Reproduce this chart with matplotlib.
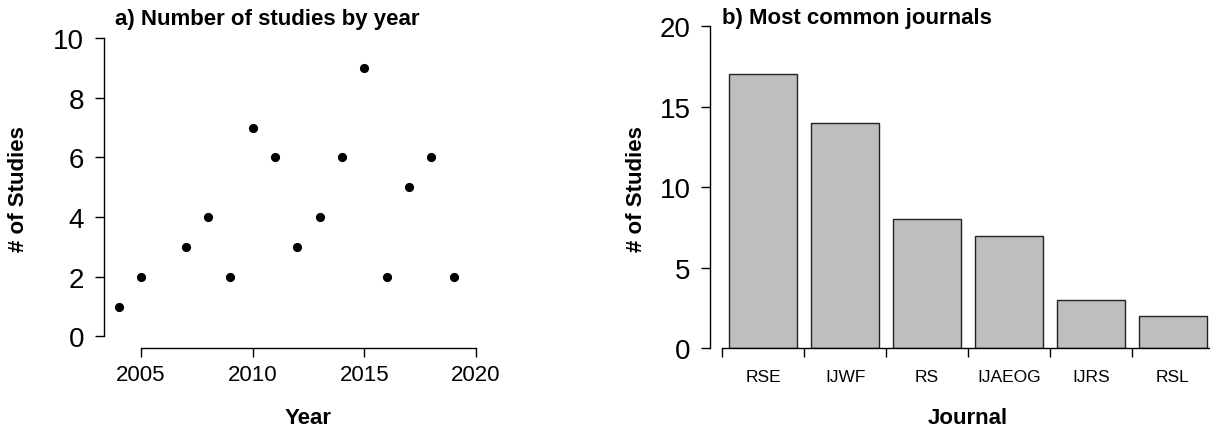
import matplotlib
matplotlib.use("Agg")
import matplotlib.pyplot as plt

plt.rcParams['font.family'] = ['Liberation Sans', 'DejaVu Sans']

# Data
years = [2004, 2005, 2007, 2008, 2009, 2010, 2011, 2012, 2013, 2014, 2015, 2016, 2017, 2018, 2019]
studies = [1, 2, 3, 4, 2, 7, 6, 3, 4, 6, 9, 2, 5, 6, 2]
year_ticks = [2005, 2010, 2015, 2020]
count_ticks_a = [0, 2, 4, 6, 8, 10]

journals = ["RSE", "IJWF", "RS", "IJAEOG", "IJRS", "RSL"]
journal_counts = [17, 14, 8, 7, 3, 2]
count_ticks_b = [0, 5, 10, 15, 20]

W, H = 1210, 431
fig = plt.figure(figsize=(W / 100, H / 100), dpi=100)


def px_axes(left, top, right, bottom):
    return fig.add_axes([left / W, 1 - bottom / H, (right - left) / W, (bottom - top) / H])


TICK_FS = 20
tick_len = 6.7
lw = 1.0
TITLE_FS = 16
LABEL_FS = 16

# ---------- Panel a ----------
axa = px_axes(103.5, 27.1, 513.5, 349.3)
axa.plot(years, studies, 'o', color='black', markersize=5.6, clip_on=False)
axa.set_xlim(2003.32, 2021.68)
axa.set_ylim(-0.4, 10.4)
for s in ['top', 'right']:
    axa.spines[s].set_visible(False)
axa.spines['left'].set_bounds(0, 10)
axa.spines['bottom'].set_bounds(2005, 2020)
for s in ['left', 'bottom']:
    axa.spines[s].set_linewidth(lw)
axa.set_xticks(year_ticks)
axa.set_yticks(count_ticks_a)
axa.tick_params(axis='y', labelsize=TICK_FS, length=tick_len, width=lw, pad=7.2)
axa.tick_params(axis='x', labelsize=16, length=tick_len, width=lw, pad=4.5)
axa.patch.set_visible(False)

fig.text(115 / W, 1 - 25 / H, "a) Number of studies by year", fontsize=TITLE_FS,
         fontweight='bold', ha='left', va='baseline')
fig.text(308.5 / W, 1 - 424 / H, "Year", fontsize=LABEL_FS, fontweight='bold',
         ha='center', va='baseline')
fig.text(19 / W, 1 - 189 / H, "# of Studies", fontsize=LABEL_FS, fontweight='bold',
         rotation=90, ha='center', va='center')

# ---------- Panel b ----------
axb = px_axes(710, 27.1, 1226, 349.3)
centers = [0.7 + 1.2 * i for i in range(len(journals))]
axb.bar(centers, journal_counts, width=1.0, color='#bebebe', edgecolor='#222222',
        linewidth=1.0)
axb.set_xlim(-0.08, 7.48)
axb.set_ylim(0, 20)
for s in ['top', 'right']:
    axb.spines[s].set_visible(False)
axb.spines['left'].set_bounds(0, 20)
bnd = [0.1 + 1.2 * i for i in range(len(journals) + 1)]
axb.spines['bottom'].set_bounds(bnd[0], bnd[-1])
for s in ['left', 'bottom']:
    axb.spines[s].set_linewidth(lw)
axb.set_yticks(count_ticks_b)
axb.set_xticks(bnd)
axb.set_xticklabels([])
axb.set_xticks(centers, minor=True)
axb.set_xticklabels(journals, minor=True)
axb.tick_params(axis='y', labelsize=TICK_FS, length=tick_len, width=lw, pad=7.2)
axb.tick_params(axis='x', which='major', length=tick_len, width=lw)
axb.tick_params(axis='x', which='minor', length=0, labelsize=12.5, pad=15)
axb.patch.set_visible(False)

fig.text(722 / W, 1 - 24 / H, "b) Most common journals", fontsize=TITLE_FS,
         fontweight='bold', ha='left', va='baseline')
fig.text(968 / W, 1 - 424 / H, "Journal", fontsize=LABEL_FS, fontweight='bold',
         ha='center', va='baseline')
fig.text(637 / W, 1 - 189 / H, "# of Studies", fontsize=LABEL_FS, fontweight='bold',
         rotation=90, ha='center', va='center')

fig.savefig("out.png", dpi=100)
